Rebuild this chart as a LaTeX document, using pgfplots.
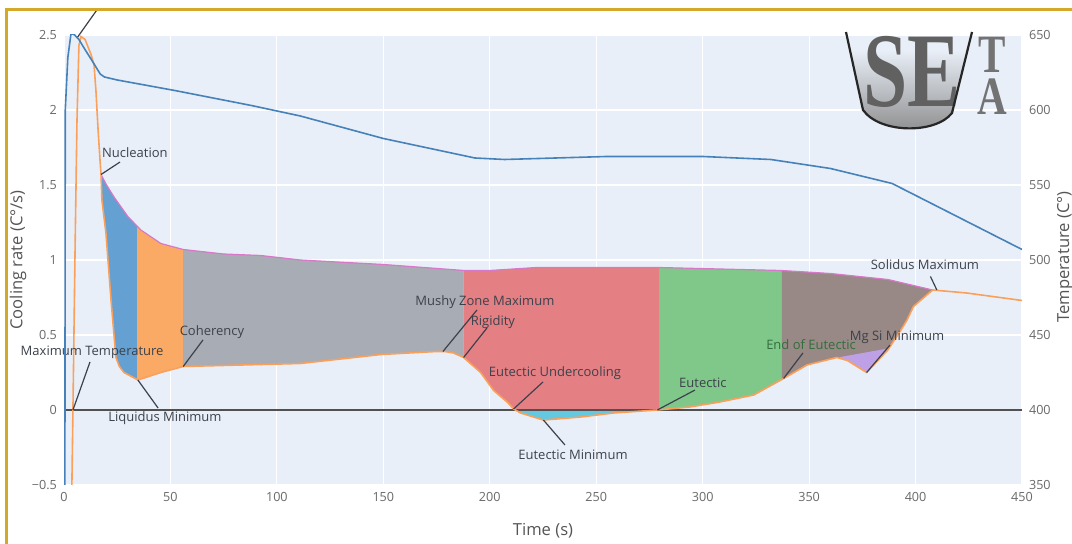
\documentclass[border=0pt]{standalone}
\usepackage{fontspec}
\setmainfont{Open Sans}
\newfontfamily\logofont{Liberation Serif}
\usepackage{pgfplots}
\pgfplotsset{compat=1.18}
\usepackage{pgfplotstable}

\definecolor{bgc}{RGB}{233,239,248}
\definecolor{tempblue}{RGB}{70,130,185}
\definecolor{crorange}{RGB}{250,160,90}
\definecolor{envpink}{RGB}{215,120,200}
\definecolor{fblue}{RGB}{100,160,210}
\definecolor{forange}{RGB}{250,170,100}
\definecolor{fgray}{RGB}{168,172,180}
\definecolor{fred}{RGB}{228,128,132}
\definecolor{fgreen}{RGB}{128,200,138}
\definecolor{fbrown}{RGB}{152,136,134}
\definecolor{fpurple}{RGB}{190,160,230}
\definecolor{fcyan}{RGB}{100,200,225}
\definecolor{gold}{RGB}{212,168,40}
\definecolor{annot}{RGB}{60,65,75}
\definecolor{annotgreen}{RGB}{50,110,60}
\definecolor{ticklab}{RGB}{105,105,105}
\definecolor{axtitle}{RGB}{85,85,85}
\definecolor{zerogray}{RGB}{80,80,80}

% cooling rate curve (C/s)
\pgfplotstableread{
t cr
3.6 -0.6
4.2 0
5.2 1.07
6.1 1.93
7.0 2.43
8.0 2.49
9.9 2.47
12.7 2.37
14.1 2.30
15.0 2.13
16.0 1.87
16.9 1.67
17.4 1.57
17.8 1.40
19.7 1.18
22.1 0.73
24.4 0.35
26.0 0.29
28.2 0.25
34.7 0.20
45.5 0.25
56.0 0.29
111 0.31
149 0.37
175 0.39
179 0.39
183 0.38
187.7 0.35
195.7 0.25
201.8 0.13
208.4 0.05
211.2 0.007
214.5 -0.02
225.2 -0.067
242.6 -0.047
258.1 -0.02
278.7 0.0
294 0.02
308 0.053
324 0.10
338 0.21
349 0.30
363 0.35
368 0.33
377 0.25
387 0.40
393 0.53
396 0.60
399 0.69
408 0.80
424 0.78
450 0.73
}\crtable

% upper envelope
\pgfplotstableread{
t env
17.4 1.57
20 1.50
23.5 1.42
27 1.35
30 1.29
36.1 1.20
45.5 1.11
56 1.07
75 1.04
92.4 1.03
111 1.00
150 0.97
188 0.93
200 0.93
222 0.95
279 0.95
337 0.93
360 0.91
387 0.87
408 0.80
}\envtable

% temperature (C)
\pgfplotstableread{
t T
0.4 330
0.6 600
1.8 635
3.3 651
5 650
7 647
10 640
14 631
17 624
19 622
25 620
52 613
88 603
111 596
150 581
193 568
207 567
255 569
300 569
332 567
360 561
389 551
450 507
}\temptable

\tikzset{ann/.style={font=\fontsize{6.5}{7}\selectfont, text=annot, inner sep=0.5pt}, al/.style={annot, line width=0.6pt}}

\begin{document}
\begin{tikzpicture}[x=1pt,y=1pt]
\fill[white] (0,0) rectangle (536,272);

\begin{axis}[
  name=main,
  at={(32pt,67pt)}, anchor=origin, scale only axis,
  width=479pt, height=225pt,
  xmin=0, xmax=450, ymin=-0.5, ymax=2.5,
  clip mode=individual,
  axis line style={draw=none}, major tick length=0,
  xtick={0,50,100,150,200,250,300,350,400,450},
  xticklabels={0,50,100,150,200,250,300,350,400,450},
  ytick={-0.5,0,0.5,1,1.5,2,2.5},
  yticklabels={−0.5,0,0.5,1,1.5,2,2.5},
  grid=major, major grid style={white, line width=0.6pt},
  axis background/.style={fill=bgc},
  tick label style={font=\fontsize{6.3}{7}\selectfont, text=ticklab},
]
% filled phase regions (between upper envelope and cooling-rate curve)
\addplot[fill=fblue, draw=none] coordinates {(17.4,1.57)(20,1.50)(23.5,1.42)(27,1.35)(30,1.29)(34.3,1.227)(34.3,0.20)(28.2,0.25)(26,0.29)(24.4,0.35)(22.1,0.73)(19.7,1.18)(17.8,1.40)};
\addplot[fill=forange, draw=none] coordinates {(34.3,1.227)(36.1,1.20)(45.5,1.11)(56,1.07)(56,0.29)(45.5,0.25)(34.7,0.20)(34.3,0.20)};
\addplot[fill=fgray, draw=none] coordinates {(56,1.07)(75,1.04)(92.4,1.03)(111,1.00)(150,0.97)(187.6,0.93)(187.6,0.35)(183,0.38)(179,0.39)(175,0.39)(149,0.37)(111,0.31)(56,0.29)};
\addplot[fill=fred, draw=none] coordinates {(187.6,0.93)(200,0.93)(222,0.95)(279.5,0.95)(279.5,0.001)(211.2,0)(208.4,0.05)(201.8,0.13)(195.7,0.25)(187.6,0.35)};
\addplot[fill=fcyan, draw=none] coordinates {(211.2,0)(278.7,0)(258.1,-0.02)(242.6,-0.047)(225.2,-0.067)(214.5,-0.02)};
\addplot[fill=fgreen, draw=none] coordinates {(279.5,0.95)(337.2,0.93)(337.2,0.20)(324,0.10)(308,0.053)(294,0.02)(279.5,0.001)};
\addplot[fill=fbrown, draw=none] coordinates {(337.2,0.93)(360,0.91)(387,0.87)(408,0.80)(399,0.69)(396,0.60)(393,0.53)(387,0.40)(377,0.25)(368,0.33)(363,0.35)(349,0.30)(338,0.21)(337.2,0.20)};
\addplot[fill=fpurple, draw=none] coordinates {(364.6,0.353)(387,0.41)(387,0.40)(377,0.25)(368,0.33)(364.6,0.345)};

\addplot[zerogray, line width=0.9pt] coordinates {(0,0) (450,0)};
\addplot[envpink, line width=0.6pt] table[x=t,y=env]{\envtable};
\addplot[crorange, line width=0.8pt] table[x=t,y=cr]{\crtable};

% annotations
\draw[al] (26.3,1.653) -- (17.4,1.57);
\node[ann] at (33.3,1.713) {Nucleation};
\draw[al] (12.2,0.32) -- (4.2,0.0);
\node[ann] at (13.2,0.387) {Maximum Temperature};
\draw[al] (44.2,0.013) -- (34.7,0.2);
\node[ann] at (47.4,-0.053) {Liquidus Minimum};
\draw[al] (65.3,0.467) -- (56,0.29);
\node[ann] at (69.5,0.52) {Coherency};
\draw[al] (194,0.667) -- (178,0.39);
\node[ann] at (197.7,0.72) {Mushy Zone Maximum};
\draw[al] (198.7,0.547) -- (187.7,0.35);
\node[ann] at (201.5,0.587) {Rigidity};
\draw[al] (225,0.187) -- (211.2,0.007);
\node[ann] at (230.6,0.247) {Eutectic Undercooling};
\draw[al] (235.3,-0.233) -- (225.2,-0.067);
\node[ann] at (239.1,-0.3) {Eutectic Minimum};
\draw[al] (296.4,0.133) -- (278.7,0.0);
\node[ann] at (300.1,0.18) {Eutectic};
\draw[al] (347.1,0.38) -- (338,0.21);
\node[ann, text=annotgreen] at (350.9,0.433) {End of Eutectic};
\draw[al] (388,0.433) -- (377,0.25);
\node[ann] at (391.3,0.487) {Mg Si Minimum};
\draw[al] (407,0.89) -- (410,0.80);
\node[ann] at (404.4,0.967) {Solidus Maximum};
\draw[al] (6.1,2.48) -- (15.6,2.67);
\end{axis}

\begin{axis}[
  at={(main.south west)}, anchor=south west, scale only axis,
  width=479pt, height=225pt,
  xmin=0, xmax=450, ymin=350, ymax=650,
  hide x axis, axis y line*=right,
  axis line style={draw=none}, major tick length=0,
  ytick={350,400,450,500,550,600,650},
  yticklabels={350,400,450,500,550,600,650},
  tick label style={font=\fontsize{6.3}{7}\selectfont, text=ticklab},
]
\addplot[tempblue, line width=0.8pt] table[x=t,y=T]{\temptable};
\end{axis}

% axis titles
\node[rotate=90, font=\fontsize{8.3}{9}\selectfont, text=axtitle] at (9,142) {Cooling rate (C°/s)};
\node[rotate=90, font=\fontsize{8.3}{9}\selectfont, text=axtitle] at (532.5,143.5) {Temperature (C°)};
\node[font=\fontsize{8.3}{9}\selectfont, text=axtitle] at (271.5,6.5) {Time (s)};

% logo
\shade[top color=bgc, bottom color=black!45] (425,247) -- (431.5,217) .. controls (440,205) and (468,205) .. (476,215.5) -- (484,247) -- cycle;
\node[font=\logofont\bfseries\fontsize{53}{53}\selectfont, text=black!62, xscale=0.75, inner sep=0] at (456,236) {SE};
\draw[black!85, line width=1.1pt] (423,256) -- (431.5,217) .. controls (440,205) and (468,205) .. (476,215.5) -- (486,256);
\node[font=\logofont\bfseries\fontsize{27}{21}\selectfont, text=black!55, xscale=0.76, inner sep=0, align=center] at (496,234) {T\\A};

% border
\draw[gold, line width=1.5pt] (3,0) -- (3,267) -- (536,267);

\pgfresetboundingbox
\path[use as bounding box] (0,0) rectangle (536,272);
\end{tikzpicture}
\end{document}
